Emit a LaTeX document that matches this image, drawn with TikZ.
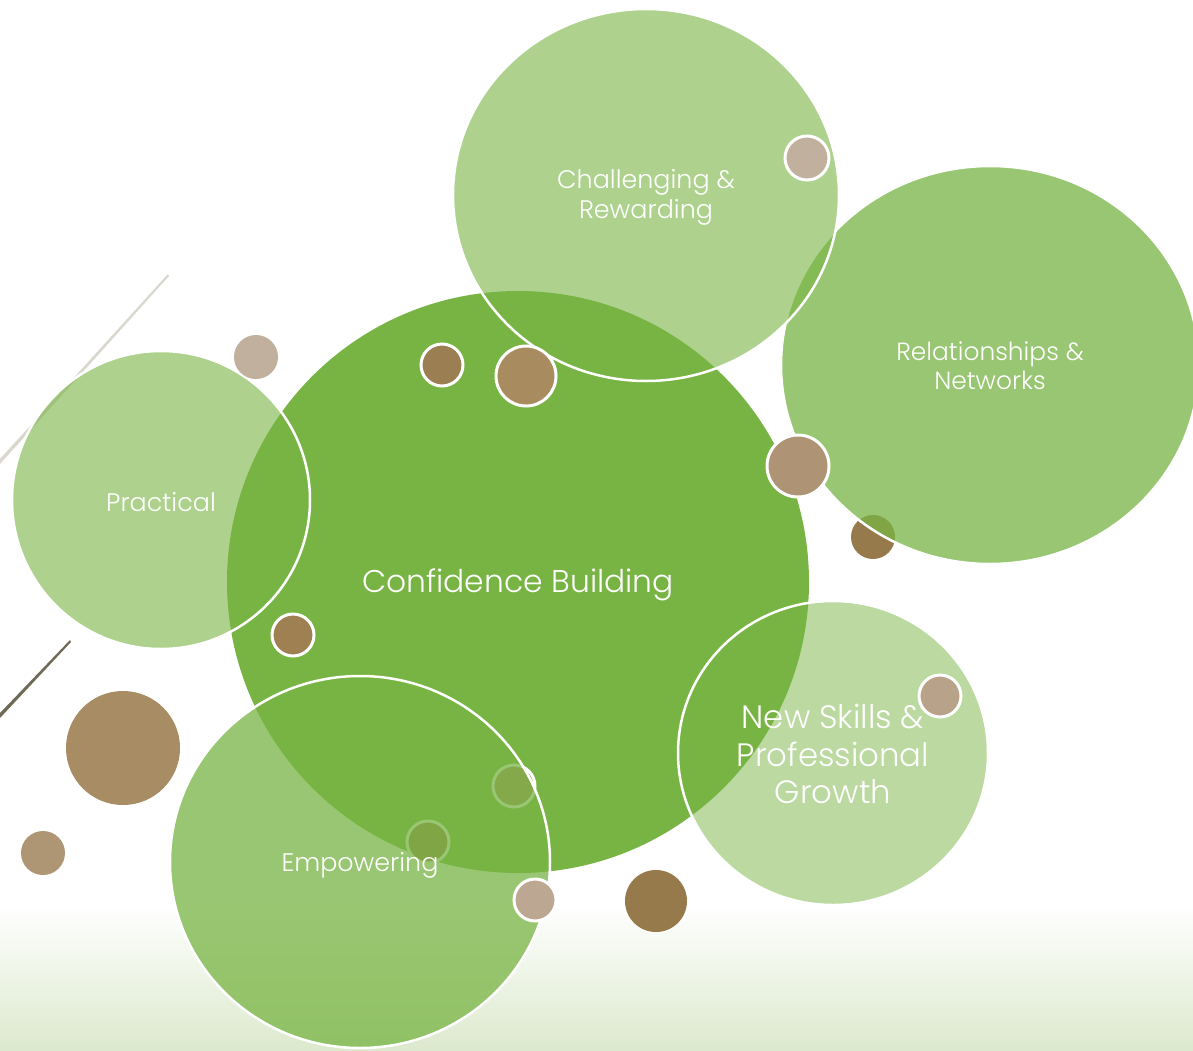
\documentclass[tikz,border=0pt]{standalone}
\usepackage{fontspec}
\setmainfont{Poppins}[UprightFont=* Light]
\definecolor{G}{HTML}{78B443}
\definecolor{bgG}{HTML}{DCE9CD}
\definecolor{lineL}{HTML}{DAD7CE}
\definecolor{lineD}{HTML}{6E6A55}
\definecolor{taupeA}{HTML}{C2B09E}
\definecolor{taupeB}{HTML}{BCA892}
\definecolor{taupeC}{HTML}{B8A38A}
\definecolor{brA}{HTML}{9C7E53}
\definecolor{brB}{HTML}{A88C60}
\definecolor{brC}{HTML}{AE9474}
\definecolor{brD}{HTML}{977A4B}
\definecolor{brE}{HTML}{9E8053}
\definecolor{brF}{HTML}{A88C64}
\definecolor{brG}{HTML}{AE9574}
\begin{document}
\begin{tikzpicture}[x=1bp,y=-1bp,
  big/.style={draw=white, line width=2.5bp},
  dot/.style={draw=white, line width=3bp},
  lbl/.style={text=white, align=center, inner sep=0pt}]
\useasboundingbox (0,0) rectangle (1193,1051);
\fill[white] (0,0) rectangle (1193,1051);
\shade[top color=white, bottom color=bgG] (0,905) rectangle (1193,1051);
% decorative lines
\fill[lineL] (168,274) -- (169,276) -- (0,464) -- (0,459) -- cycle;
\fill[lineD] (70,640) -- (71,642) -- (0,718) -- (0,713) -- cycle;
% central circle
\fill[G] (518,582) circle (291);
% dots on central circle
\fill[brA, dot] (442,365) circle (21);
\fill[brE, dot] (293,635) circle (21);
\fill[brB, dot] (514,786) circle (21);
\fill[brD, dot] (428,842) circle (21);
% Practical
\fill[G, fill opacity=0.6, big] (161,500) circle (149);
\fill[taupeA] (256,357) circle (22);
% Relationships
\fill[brD] (873,537) circle (22);
\fill[G, fill opacity=0.75, big] (990,365) ellipse [x radius=209, y radius=199];
% Challenging
\fill[G, fill opacity=0.6, big] (646,195) ellipse [x radius=193, y radius=186];
\fill[taupeA, dot] (807,158) circle (22);
\fill[brB, dot] (526,376) circle (30);
\fill[brC, dot] (798,466) circle (31);
% Empowering
\fill[G, fill opacity=0.75, big] (360,862) ellipse [x radius=190, y radius=186];
\fill[taupeB, dot] (535,900) circle (21);
% New Skills
\fill[G, fill opacity=0.5, big] (833,753) ellipse [x radius=155, y radius=152];
\fill[taupeC, dot] (940,696) circle (21);
% free dots
\fill[brF] (123,748) circle (57);
\fill[brG] (43,853) circle (22);
\fill[brD] (656,901) circle (31);
% labels
\node[lbl, font=\fontsize{31.5}{36}\selectfont] (conf) at (518,585) {Confidence Building};
\node[lbl, font=\fontsize{25.5}{30}\selectfont] (chal) at (646,197) {Challenging \&\\Rewarding};
\node[lbl, font=\fontsize{25}{29}\selectfont] (rel) at (990,366) {Relationships \&\\Networks};
\node[lbl, font=\fontsize{25.5}{30}\selectfont] (prac) at (161,502) {Practical};
\node[lbl, font=\fontsize{32.5}{38}\selectfont] (skills) at (833,754) {New Skills \&\\Professional\\Growth};
\node[lbl, font=\fontsize{25.5}{30}\selectfont] (emp) at (360,865) {Empowering};
\end{tikzpicture}
\end{document}
